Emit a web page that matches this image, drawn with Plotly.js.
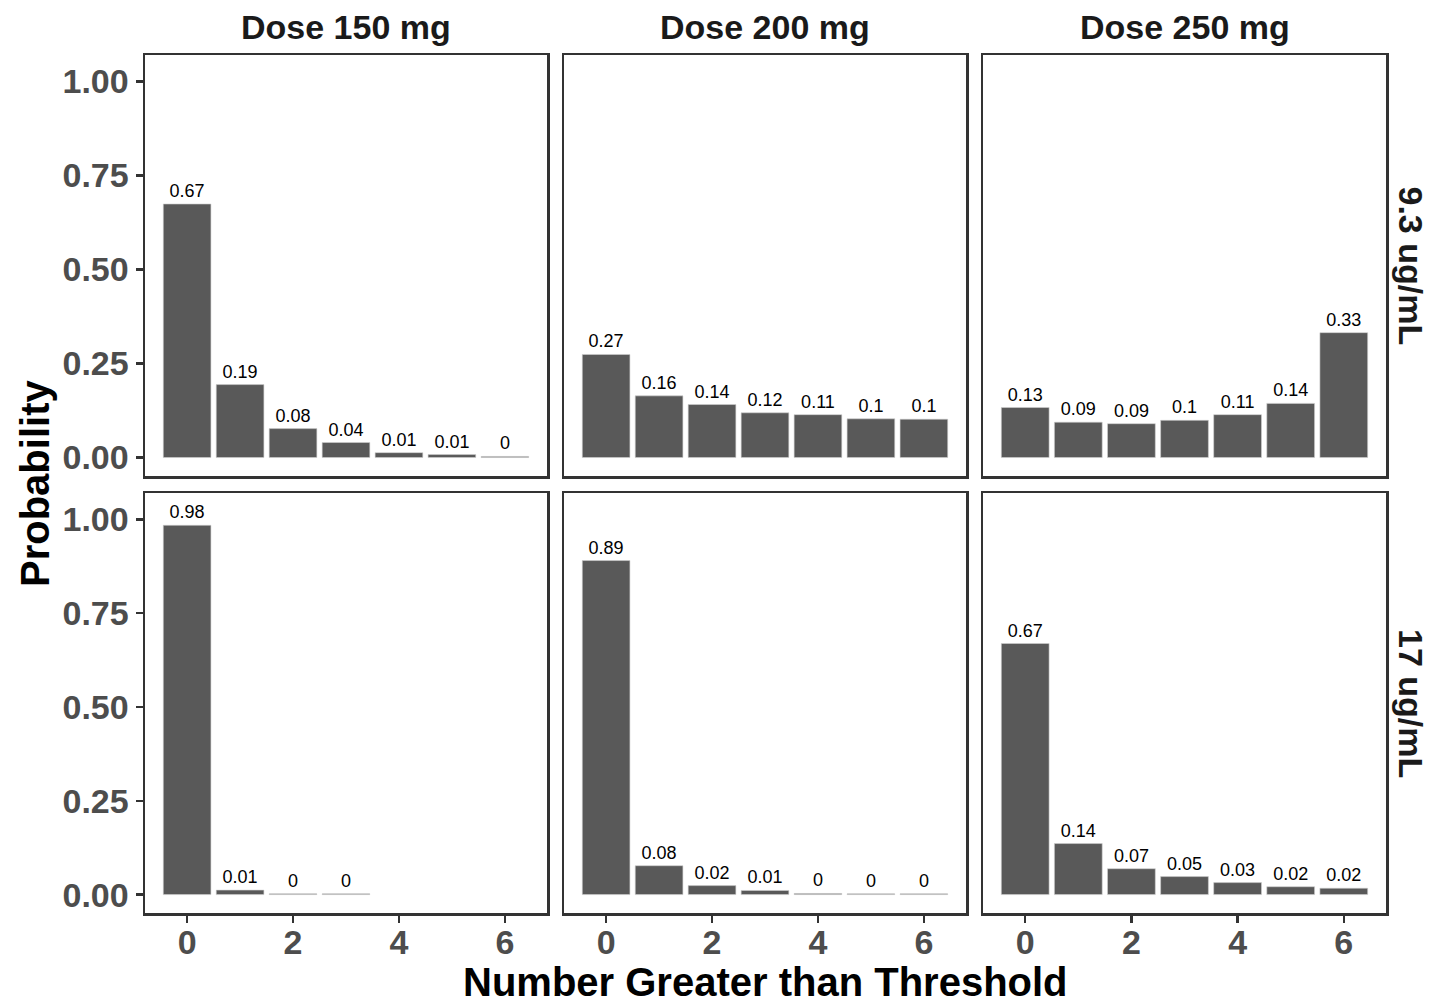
<!DOCTYPE html>
<html>
<head>
<meta charset="utf-8">
<script src="https://cdn.plot.ly/plotly-3.0.1.min.js"></script>
<style>html,body{margin:0;padding:0;background:#fff;}#chart{width:1432px;height:1001px;}</style>
</head>
<body>
<div id="chart"></div>
<script>
// ---- data ----
const doses = ["Dose 150 mg", "Dose 200 mg", "Dose 250 mg"];
const thresholds = ["9.3 ug/mL", "17 ug/mL"];
const counts = [0, 1, 2, 3, 4, 5, 6];
const countsShort = [0, 1, 2, 3];

const p93_150 = [0.674, 0.194, 0.077, 0.040, 0.013, 0.008, 0.003];
const p93_200 = [0.274, 0.164, 0.141, 0.119, 0.114, 0.103, 0.102];
const p93_250 = [0.133, 0.094, 0.090, 0.099, 0.114, 0.144, 0.332];
const p17_150 = [0.984, 0.012, 0.002, 0.002];
const p17_200 = [0.890, 0.077, 0.024, 0.011, 0.003, 0.002, 0.002];
const p17_250 = [0.669, 0.136, 0.069, 0.048, 0.032, 0.021, 0.017];

const yTicks = [0, 0.25, 0.5, 0.75, 1];
const xTicks = [0, 2, 4, 6];

// ---- layout geometry (pixels) ----
const W = 1432, H = 1001;
const colPx = [[145, 547], [564, 966], [983, 1386]];
const rowPx = [[55, 476], [493, 913]];
const fx = p => p / W;
const fy = p => 1 - p / H;

const panels = [
  {row: 0, col: 0, x: counts, y: p93_150},
  {row: 0, col: 1, x: counts, y: p93_200},
  {row: 0, col: 2, x: counts, y: p93_250},
  {row: 1, col: 0, x: countsShort, y: p17_150},
  {row: 1, col: 1, x: counts, y: p17_200},
  {row: 1, col: 2, x: counts, y: p17_250}
];

const FONT = "Liberation Sans, Arial, sans-serif";
const traces = [];
const layout = {
  width: W, height: H,
  margin: {l: 0, r: 0, t: 0, b: 0},
  paper_bgcolor: "#ffffff",
  plot_bgcolor: "#ffffff",
  showlegend: false,
  bargap: 0.1,
  font: {family: FONT},
  annotations: []
};

panels.forEach((p, i) => {
  const n = i + 1;
  const xa = "x" + (n === 1 ? "" : n);
  const ya = "y" + (n === 1 ? "" : n);
  traces.push({
    type: "bar",
    x: p.x, y: p.y,
    xaxis: xa, yaxis: ya,
    width: 0.9,
    marker: {color: "#595959", line: {color: "#d0d0d0", width: 0.6}},
    text: p.y.map(v => String(Math.round(v * 100) / 100)),
    textposition: "outside",
    constraintext: "none",
    cliponaxis: false,
    textfont: {family: FONT, size: 18, color: "#000000"},
    hoverinfo: "x+y"
  });
  const isBottom = p.row === 1;
  const isLeft = p.col === 0;
  layout["xaxis" + (n === 1 ? "" : n)] = {
    domain: [fx(colPx[p.col][0]), fx(colPx[p.col][1])],
    anchor: ya,
    range: [-0.795, 6.795],
    tickvals: xTicks,
    ticktext: xTicks.map(String),
    showticklabels: isBottom,
    ticks: isBottom ? "outside" : "",
    ticklen: 7, tickwidth: 2.5, tickcolor: "#333333",
    ticklabelstandoff: -9,
    tickfont: {family: FONT, size: 34, color: "#4d4d4d", weight: "bold"},
    showline: true, mirror: true, linecolor: "#333333", linewidth: 2.5,
    showgrid: false, zeroline: false, fixedrange: true
  };
  layout["yaxis" + (n === 1 ? "" : n)] = {
    domain: [fy(rowPx[p.row][1]), fy(rowPx[p.row][0])],
    anchor: xa,
    range: [-0.049, 1.07],
    tickvals: yTicks,
    ticktext: yTicks.map(v => v.toFixed(2)),
    showticklabels: isLeft,
    ticks: isLeft ? "outside" : "",
    ticklen: 7, tickwidth: 2.5, tickcolor: "#333333",
    tickfont: {family: FONT, size: 34, color: "#4d4d4d", weight: "bold"},
    showline: true, mirror: true, linecolor: "#333333", linewidth: 2.5,
    showgrid: false, zeroline: false, fixedrange: true
  };
});

// facet strip titles (top)
doses.forEach((d, c) => {
  layout.annotations.push({
    text: d, xref: "paper", yref: "paper",
    x: fx((colPx[c][0] + colPx[c][1]) / 2), y: fy(27),
    xanchor: "center", yanchor: "middle", showarrow: false,
    font: {family: FONT, size: 34, color: "#1a1a1a", weight: "bold"}
  });
});
// facet strip titles (right)
thresholds.forEach((t, r) => {
  layout.annotations.push({
    text: t, xref: "paper", yref: "paper",
    x: fx(1411), y: fy((rowPx[r][0] + rowPx[r][1]) / 2),
    xanchor: "center", yanchor: "middle", showarrow: false, textangle: 90,
    font: {family: FONT, size: 34, color: "#1a1a1a", weight: "bold"}
  });
});
// axis titles
layout.annotations.push({
  text: "Number Greater than Threshold", xref: "paper", yref: "paper",
  x: fx(765), y: fy(982), xanchor: "center", yanchor: "middle", showarrow: false,
  font: {family: FONT, size: 40, color: "#000000", weight: "bold"}
});
layout.annotations.push({
  text: "Probability", xref: "paper", yref: "paper",
  x: fx(35), y: fy(484), xanchor: "center", yanchor: "middle", showarrow: false,
  textangle: -90,
  font: {family: FONT, size: 40, color: "#000000", weight: "bold"}
});

Plotly.newPlot("chart", traces, layout, {displayModeBar: false, staticPlot: true});
</script>
</body>
</html>
